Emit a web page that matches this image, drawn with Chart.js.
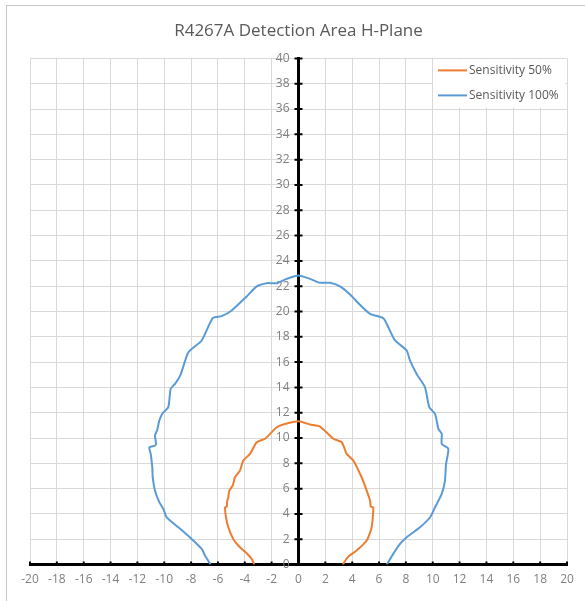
<!DOCTYPE html>
<html>
<head>
<meta charset="utf-8">
<script src="https://cdn.jsdelivr.net/npm/chart.js@4.4.1/dist/chart.umd.min.js"></script>
<style>
  body { margin: 0; background: #fff; }
  #wrap { position: relative; width: 585px; height: 601px; overflow: hidden; }
  #frame { position: absolute; left: 6px; top: 5px; width: 640px; height: 660px; border: 1px solid #c6c6c6; }
  #detChart { position: absolute; left: 0; top: 0; }
</style>
</head>
<body>
<div id="wrap">
  <div id="frame"></div>
  <canvas id="detChart" width="585" height="601"></canvas>
</div>
<script>
// Sensitivity 100% contour (x = lateral m, y = distance m)
const sens100X = [-6.54, -6.96, -7.21, -7.96, -8.95, -9.82, -10.07, -10.37, -10.69, -10.86, -10.89, -11.01, -11.11, -10.69, -10.61, -10.69, -10.52, -10.37, -10.12, -9.70, -9.52, -9.20, -8.78, -8.20, -7.21, -6.39, -5.72, -4.98, -3.86, -3.11, -2.37, -1.62, -0.88, 0.0, 0.86, 1.60, 2.35, 3.09, 3.84, 4.58, 5.33, 6.32, 6.69, 7.19, 8.06, 8.30, 8.80, 9.42, 9.74, 10.17, 10.42, 10.67, 10.67, 11.16, 10.99, 10.91, 10.67, 10.17, 9.80, 9.05, 8.06, 7.56, 7.06, 6.57];
const sens100Y = [0, 0.70, 1.24, 2.03, 2.95, 3.74, 4.40, 4.93, 5.85, 6.90, 7.69, 8.75, 9.27, 9.40, 9.54, 10.20, 10.65, 11.38, 11.96, 12.44, 13.89, 14.28, 15.02, 16.78, 17.71, 19.47, 19.63, 20.08, 21.19, 21.98, 22.24, 22.24, 22.58, 22.85, 22.58, 22.27, 22.27, 21.98, 21.34, 20.53, 19.82, 19.47, 18.76, 17.71, 16.92, 16.13, 15.07, 14.02, 12.44, 11.91, 10.73, 10.33, 9.54, 9.15, 7.96, 6.64, 5.59, 4.53, 3.74, 2.95, 2.16, 1.63, 0.85, 0];

// Sensitivity 50% contour
const sens50X = [-3.29, -3.49, -3.86, -4.36, -4.86, -5.23, -5.40, -5.47, -5.35, -5.30, -5.23, -5.15, -4.90, -4.73, -4.36, -4.11, -3.61, -3.11, -2.50, -1.62, -1.13, 0.0, 0.86, 1.60, 2.60, 3.22, 3.59, 4.08, 4.70, 5.08, 5.33, 5.38, 5.57, 5.45, 5.08, 4.33, 3.71, 3.29];
const sens50Y = [0, 0.45, 0.90, 1.37, 2.03, 2.95, 3.74, 4.53, 4.58, 5.06, 5.32, 5.85, 6.25, 6.90, 7.43, 8.22, 8.75, 9.67, 9.94, 10.85, 11.07, 11.33, 11.07, 10.91, 9.94, 9.67, 8.75, 8.22, 6.90, 5.85, 5.06, 4.58, 4.53, 2.95, 1.90, 1.11, 0.63, 0];

const seriesLabels = ["Sensitivity 50%", "Sensitivity 100%"];
const seriesColors = ["#ED7D31", "#5B9BD5"];

const xRange = [-20, 20];
const yRange = [0, 40];
const tickStep = 2;

const chartTitle = "R4267A Detection Area H-Plane";
const fontFamily = "'Open Sans', 'Liberation Sans', sans-serif";

function toPoints(xs, ys) {
    return xs.map((x, i) => ({ x: x, y: ys[i] }));
}

// black tick marks crossing both axis lines + y labels left of the centre axis
const crossTicks = {
    id: "crossTicks",
    beforeDatasetsDraw(chart) {
        const ctx = chart.ctx;
        const xs = chart.scales.x;
        const ys = chart.scales.y;
        const x0 = xs.getPixelForValue(0);
        const y0 = ys.getPixelForValue(0);
        ctx.save();

        ctx.fillStyle = "#7f7f7f";
        ctx.font = "12px " + fontFamily;
        ctx.textAlign = "right";
        ctx.textBaseline = "middle";
        ys.ticks.forEach(t => {
            ctx.fillText(t.label, x0 - 9, ys.getPixelForValue(t.value));
        });

        ctx.strokeStyle = "#000";
        ctx.lineWidth = 2;
        ctx.beginPath();
        ys.ticks.forEach(t => {
            const py = ys.getPixelForValue(t.value);
            ctx.moveTo(x0 - 4, py);
            ctx.lineTo(x0 + 4, py);
        });
        xs.ticks.forEach(t => {
            const px = xs.getPixelForValue(t.value);
            ctx.moveTo(px, y0 - 3);
            ctx.lineTo(px, y0 + 1);
        });
        ctx.stroke();
        ctx.restore();
    }
};

// legend box inside the plot, top right
const boxLegend = {
    id: "boxLegend",
    afterDatasetsDraw(chart) {
        const ctx = chart.ctx;
        const area = chart.chartArea;
        const left = area.right - 134;
        const top = area.top + 1;
        ctx.save();
        ctx.fillStyle = "#fff";
        ctx.fillRect(left, top, 132, 48);
        ctx.font = "12px " + fontFamily;
        ctx.textBaseline = "middle";
        chart.data.datasets.forEach((ds, i) => {
            const cy = top + 11 + i * 25;
            ctx.strokeStyle = ds.borderColor;
            ctx.lineWidth = 2;
            ctx.beginPath();
            ctx.moveTo(left + 5, cy);
            ctx.lineTo(left + 34, cy);
            ctx.stroke();
            ctx.fillStyle = "#595959";
            ctx.fillText(ds.label, left + 36, cy);
        });
        ctx.restore();
    }
};

const ctx = document.getElementById("detChart").getContext("2d");

const detChart = new Chart(ctx, {
    type: "scatter",
    data: {
        datasets: [
            {
                label: seriesLabels[0],
                data: toPoints(sens50X, sens50Y),
                showLine: true,
                borderColor: seriesColors[0],
                backgroundColor: seriesColors[0],
                borderWidth: 2,
                pointRadius: 0,
                tension: 0.2,
            },
            {
                label: seriesLabels[1],
                data: toPoints(sens100X, sens100Y),
                showLine: true,
                borderColor: seriesColors[1],
                backgroundColor: seriesColors[1],
                borderWidth: 2,
                pointRadius: 0,
                tension: 0.2,
            },
        ],
    },
    options: {
        responsive: false,
        animation: false,
        layout: {
            padding: { left: 30, right: 18, top: 0, bottom: 6 },
        },
        plugins: {
            legend: { display: false },
            tooltip: { enabled: false },
            title: {
                display: true,
                text: chartTitle,
                color: "#595959",
                font: { family: fontFamily, size: 17, weight: "normal" },
                padding: { top: 21, bottom: 17 },
            },
        },
        scales: {
            x: {
                type: "linear",
                position: "bottom",
                min: xRange[0],
                max: xRange[1],
                grid: { color: "#d9d9d9", lineWidth: 1, drawTicks: false },
                border: { display: true, color: "#000", width: 3 },
                ticks: {
                    stepSize: tickStep,
                    color: "#7f7f7f",
                    padding: 8,
                    maxRotation: 0,
                    font: { family: fontFamily, size: 12 },
                },
            },
            y: {
                type: "linear",
                position: { x: 0 },
                min: yRange[0],
                max: yRange[1],
                grid: { color: "#d9d9d9", lineWidth: 1, drawTicks: false },
                border: { display: true, color: "#000", width: 3 },
                ticks: {
                    stepSize: tickStep,
                    display: false,
                    font: { family: fontFamily, size: 12 },
                },
            },
        },
    },
    plugins: [crossTicks, boxLegend],
});
</script>
</body>
</html>
